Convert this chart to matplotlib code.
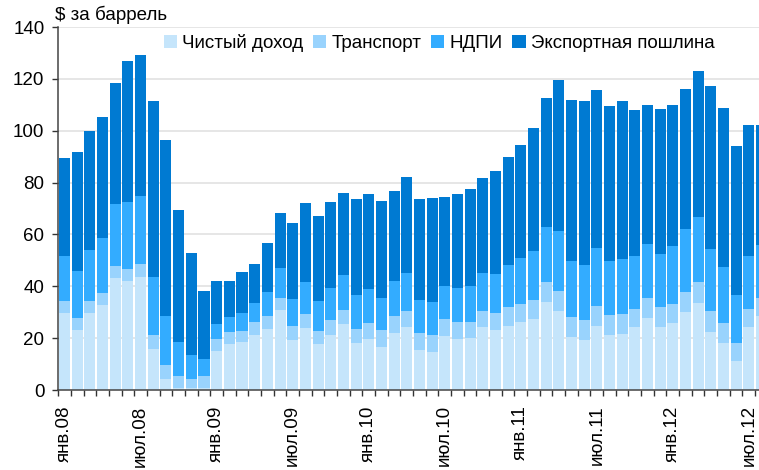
import matplotlib
matplotlib.use("Agg")
import matplotlib.pyplot as plt
import numpy as np

plt.rcParams['font.family'] = ['Liberation Sans', 'DejaVu Sans']

# monthly, Jan 2008 .. Aug 2012
months = ["янв", "фев", "мар", "апр", "май", "июн",
          "июл", "авг", "сен", "окт", "ноя", "дек"]
years = ["08", "09", "10", "11", "12"]
n_bars = 56

net_income = [29.7, 23.1, 29.7, 32.8, 43.3, 42.0, 43.6, 15.8, 4.2, 0.8, 0.8, 0.8,
              15.1, 17.8, 18.5, 21.2, 23.5, 30.8, 19.3, 23.9, 17.7, 21.2, 25.4, 18.1,
              19.7, 16.6, 22.0, 24.3, 15.4, 14.7, 20.8, 19.7, 20.1, 24.3, 23.1, 24.7,
              26.2, 27.4, 33.9, 30.5, 20.4, 19.3, 24.7, 21.2, 21.6, 24.3, 27.8, 24.3,
              25.8, 30.1, 33.5, 22.4, 18.1, 11.2, 24.3, 28.5]
transport = [4.6, 4.7, 4.6, 4.6, 4.5, 4.8, 5.0, 5.4, 5.4, 4.6, 3.4, 4.6,
             4.6, 4.6, 4.3, 5.1, 5.0, 4.7, 5.4, 5.4, 5.1, 5.8, 5.4, 5.4,
             6.1, 6.5, 6.5, 6.2, 6.6, 6.5, 6.6, 6.5, 6.1, 6.2, 6.6, 7.3,
             7.0, 7.3, 7.7, 7.7, 7.7, 7.7, 7.7, 7.7, 7.7, 6.9, 7.7, 7.7,
             7.4, 7.7, 8.1, 8.1, 7.7, 6.9, 6.9, 7.0]
ndpi = [17.4, 18.1, 19.7, 21.2, 23.9, 25.7, 26.2, 22.4, 18.9, 13.1, 9.3, 6.6,
        5.8, 5.7, 6.9, 7.3, 9.3, 11.5, 10.4, 12.3, 11.5, 12.3, 13.5, 13.1,
        13.1, 12.4, 13.5, 14.6, 12.7, 12.7, 12.7, 13.1, 13.9, 14.6, 15.0, 16.2,
        17.7, 18.9, 21.3, 23.1, 21.6, 21.2, 22.4, 20.8, 21.2, 20.5, 20.8, 20.4,
        22.3, 24.3, 25.1, 23.9, 21.6, 18.5, 20.5, 20.4]
export_duty = [37.9, 45.9, 45.9, 46.7, 46.7, 54.4, 54.4, 67.8, 67.9, 50.9, 39.3, 26.2,
               16.6, 14.0, 15.9, 15.0, 18.9, 21.3, 29.3, 30.5, 32.8, 33.2, 31.7, 37.1,
               36.7, 37.4, 34.7, 37.0, 39.0, 40.1, 34.3, 36.3, 37.4, 36.6, 39.7, 41.6,
               43.6, 47.4, 49.7, 58.2, 62.1, 63.2, 60.9, 59.8, 60.9, 56.3, 53.6, 56.0,
               54.4, 54.0, 56.3, 62.8, 61.3, 57.5, 50.5, 46.3]

series = [("Чистый доход", net_income, "#C5E5FB"),
          ("Транспорт", transport, "#99D3FD"),
          ("НДПИ", ndpi, "#33ACFF"),
          ("Экспортная пошлина", export_duty, "#007AD2")]

fig = plt.figure(figsize=(7.59, 4.70), dpi=100)
ax = fig.add_axes([0.0768, 0.1702, 0.9348, 0.7723])

x = np.arange(n_bars)
bottom = np.zeros(n_bars)
for name, vals, color in series:
    vals = np.array(vals)
    ax.bar(x, vals, width=0.87, bottom=bottom, color=color, label=name,
           linewidth=0, zorder=2)
    bottom += vals

ax.set_xlim(-0.5, n_bars - 0.5)
ax.set_ylim(0, 140)
ax.set_yticks(np.arange(0, 141, 20))
ax.yaxis.grid(True, color="#e2e2e2", linewidth=1.2, zorder=0)
ax.set_axisbelow(True)

# labels every 6 months, ticks between bars
label_pos = list(range(0, n_bars, 6))
labels = [f"{months[p % 12]}.{years[p // 12]}" for p in label_pos]
ax.set_xticks(label_pos)
ax.set_xticklabels(labels, rotation=90, ha="center", va="top")
ax.set_xticks(np.arange(-0.5, n_bars, 1), minor=True)
ax.tick_params(axis="x", which="major", length=0, pad=11, labelsize=13.5)
ax.tick_params(axis="x", which="minor", length=4.5, width=1, color="#333333")
ax.tick_params(axis="y", length=4, width=1, color="#333333", pad=6, labelsize=13.5)

for s in ["top", "right"]:
    ax.spines[s].set_visible(False)
for s in ["left", "bottom"]:
    ax.spines[s].set_color("#444444")
    ax.spines[s].set_linewidth(1.1)

ax.legend(loc="center", bbox_to_anchor=(0.537, 0.956), ncol=4, frameon=False,
          fontsize=13.5, handlelength=0.7, handleheight=0.7, handletextpad=0.3,
          columnspacing=0.5, borderaxespad=0)

fig.text(55 / 759, 1 - 15 / 470, "$ за баррель", fontsize=13.5, va="center", ha="left")

fig.savefig("out.png", dpi=100)
